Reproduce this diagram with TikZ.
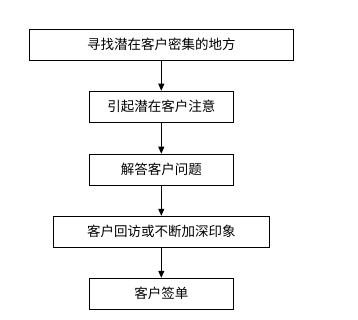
\documentclass[tikz,border=0pt]{standalone}
\usepackage{fontspec}
\newfontfamily\cjk{Noto Sans CJK SC}
\usetikzlibrary{arrows.meta}
\begin{document}
\begin{tikzpicture}[x=1pt,y=1pt,
  stepbox/.style={draw,line width=1pt,inner sep=0pt,font=\cjk\fontsize{13.5}{15}\selectfont},
  flow/.style={line width=1pt,-{Triangle[width=6pt,length=7pt]}}]
\useasboundingbox (0,0) rectangle (358,320);
\fill[white] (0,0) rectangle (358,320);
\node[stepbox,minimum width=264pt,minimum height=31pt] (b1) at (161.3,275.2) {寻找潜在客户密集的地方};
\node[stepbox,minimum width=144pt,minimum height=31pt] (b2) at (161.3,213.3) {引起潜在客户注意};
\node[stepbox,minimum width=144pt,minimum height=31pt] (b3) at (161.3,150.3) {解答客户问题};
\node[stepbox,minimum width=216pt,minimum height=31pt] (b4) at (161.3,88.2) {客户回访或不断加深印象};
\node[stepbox,minimum width=144pt,minimum height=31pt] (b5) at (161.3,26.2) {客户签单};
\draw[flow] (b1) -- (b2);
\draw[flow] (b2) -- (b3);
\draw[flow] (b3) -- (b4);
\draw[flow] (b4) -- (b5);
\end{tikzpicture}
\end{document}
